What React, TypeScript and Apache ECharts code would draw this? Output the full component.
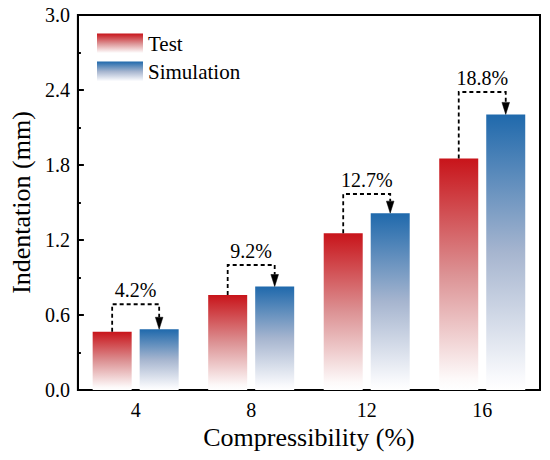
import React, { useEffect, useRef } from 'react';
import * as echarts from 'echarts';

const categories = ['4', '8', '12', '16'];
const testValues = [0.466, 0.76, 1.254, 1.853];
const simulationValues = [0.486, 0.828, 1.415, 2.205];
const diffLabels = ['4.2%', '9.2%', '12.7%', '18.8%'];
const bracketLevels = [0.686, 1.0, 1.568, 2.384];
const yMin = 0;
const yMax = 3;
const yInterval = 0.6;

const FONT = '"Times New Roman", "Liberation Serif", Times, "DejaVu Serif", serif';
const BAR_W = 39;
const BAR_GAP_PX = 8;

export default function App() {
  const ref = useRef<HTMLDivElement>(null);

  useEffect(() => {
    document.body.style.margin = '0';
    if (!ref.current) return;
    const chart = echarts.init(ref.current, null, { renderer: 'svg' });

    const redGrad = new echarts.graphic.LinearGradient(0, 0, 0, 1, [
      { offset: 0, color: '#c8141a' },
      { offset: 0.5, color: '#dc9294' },
      { offset: 0.95, color: '#fdf9f9' },
      { offset: 1, color: '#ffffff' },
    ]);
    const blueGrad = new echarts.graphic.LinearGradient(0, 0, 0, 1, [
      { offset: 0, color: '#1f69ac' },
      { offset: 0.5, color: '#a6b5cf' },
      { offset: 0.95, color: '#f8f9fc' },
      { offset: 1, color: '#ffffff' },
    ]);

    const annotData = categories.map((_, i) => [i, testValues[i], simulationValues[i], bracketLevels[i]]);

    chart.setOption({
      animation: false,
      backgroundColor: '#ffffff',
      textStyle: { fontFamily: FONT },
      grid: {
        left: 75,
        right: 10,
        top: 15,
        bottom: 70,
        show: true,
        borderColor: '#000',
        borderWidth: 2,
        backgroundColor: 'transparent',
      },
      legend: {
        data: ['Test', 'Simulation'],
        orient: 'vertical',
        left: 97,
        top: 33,
        padding: 0,
        icon: 'rect',
        itemWidth: 46,
        itemHeight: 20,
        itemGap: 7,
        textStyle: { fontFamily: FONT, fontSize: 21, color: '#000' },
      },
      xAxis: {
        type: 'category',
        data: categories,
        axisLine: { lineStyle: { color: '#000', width: 2 } },
        axisTick: { inside: true, alignWithLabel: true, length: 6, lineStyle: { color: '#000', width: 2 } },
        axisLabel: { fontFamily: FONT, fontSize: 20, color: '#000', margin: 10 },
        name: 'Compressibility (%)',
        nameLocation: 'middle',
        nameGap: 33,
        nameTextStyle: { fontFamily: FONT, fontSize: 26, color: '#000' },
      },
      yAxis: {
        type: 'value',
        min: yMin,
        max: yMax,
        interval: yInterval,
        axisLine: { show: true, lineStyle: { color: '#000', width: 2 } },
        axisTick: { show: true, inside: true, length: 6, lineStyle: { color: '#000', width: 2 } },
        minorTick: { show: true, splitNumber: 2, length: 3, lineStyle: { color: '#000', width: 2 } },
        splitLine: { show: false },
        axisLabel: {
          fontFamily: FONT,
          fontSize: 20,
          color: '#000',
          margin: 8,
          formatter: (v: number) => v.toFixed(1),
        },
        name: 'Indentation (mm)',
        nameLocation: 'middle',
        nameGap: 40,
        nameTextStyle: { fontFamily: FONT, fontSize: 26, color: '#000' },
      },
      series: [
        {
          name: 'Test',
          type: 'bar',
          data: testValues,
          barWidth: BAR_W,
          barGap: (BAR_GAP_PX / BAR_W) * 100 + '%',
          itemStyle: { color: redGrad },
        },
        {
          name: 'Simulation',
          type: 'bar',
          data: simulationValues,
          barWidth: BAR_W,
          barGap: (BAR_GAP_PX / BAR_W) * 100 + '%',
          itemStyle: { color: blueGrad },
        },
        {
          name: 'diff',
          type: 'custom',
          coordinateSystem: 'cartesian2d',
          encode: { x: 0, y: 3 },
          clip: false,
          z: 5,
          data: annotData,
          renderItem: (params: any, api: any) => {
            const idx = api.value(0);
            const red = api.value(1);
            const blue = api.value(2);
            const level = api.value(3);
            const cx = api.coord([idx, 0])[0];
            const half = (BAR_W + BAR_GAP_PX) / 2;
            const rx = cx - half;
            const bx = cx + half;
            const ry = api.coord([idx, red])[1];
            const by = api.coord([idx, blue])[1];
            const ly = api.coord([idx, level])[1];
            const ah = 12;
            const aw = 3.8;
            return {
              type: 'group',
              children: [
                {
                  type: 'polyline',
                  shape: { points: [[rx, ry], [rx, ly], [bx, ly], [bx, by - ah]] },
                  style: { stroke: '#000', lineWidth: 1.8, lineDash: [4, 3], fill: 'none' },
                },
                {
                  type: 'polygon',
                  shape: { points: [[bx - aw, by - ah], [bx + aw, by - ah], [bx, by]] },
                  style: { fill: '#000', stroke: '#000', lineWidth: 0.5 },
                },
                {
                  type: 'text',
                  x: cx,
                  y: ly - 4,
                  style: {
                    text: diffLabels[params.dataIndex],
                    fontFamily: FONT,
                    fontSize: 20,
                    fill: '#000',
                    align: 'center',
                    verticalAlign: 'bottom',
                  },
                },
              ],
            };
          },
        },
      ],
    });

    return () => chart.dispose();
  }, []);

  return <div ref={ref} style={{ width: 550, height: 460 }} />;
}
